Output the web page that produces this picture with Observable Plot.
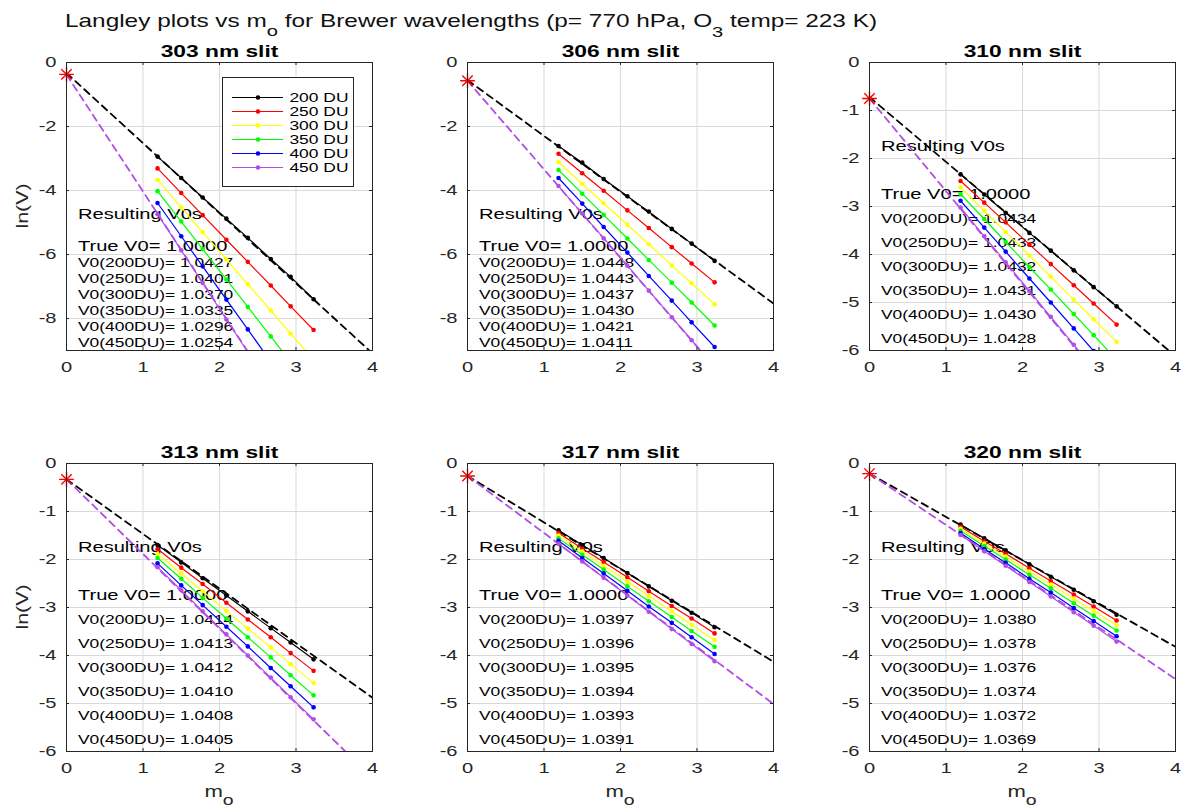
<!DOCTYPE html>
<html><head><meta charset="utf-8">
<script src="https://cdn.jsdelivr.net/npm/d3@7"></script>
<script src="https://cdn.jsdelivr.net/npm/@observablehq/plot@0.6"></script>
<style>
body{margin:0;background:#fff;}
#fig{position:relative;width:1184px;height:807px;overflow:hidden;background:#fff;}
#fig svg{position:absolute;}
</style></head><body><div id="fig"></div>
<script>
// ---------- data ----------
const slitTitles = ["303 nm slit","306 nm slit","310 nm slit","313 nm slit","317 nm slit","320 nm slit"];
const ozone = ["200 DU","250 DU","300 DU","350 DU","400 DU","450 DU"];
const ozoneDU = [200,250,300,350,400,450];
const colors = ["#000000","#ff0000","#ffff00","#00ff00","#0000ff","#b34de6"];
const airmass = [1.19,1.50,1.78,2.09,2.37,2.67,2.93,3.23];
const xTicks = [0,1,2,3,4];
const yTicksDeep = [-8,-6,-4,-2,0];
const yTicksShallow = [-6,-5,-4,-3,-2,-1,0];
const yFloor = [-9,-9,-6,-6,-6,-6];
const trueV0 = 1.0;
const starY = [-0.37,-0.57,-0.75,-0.33,-0.26,-0.21];
const fitX = [0,4];
const fit200 = [[-0.33,-9.09],[-0.55,-7.53],[-0.72,-6.12],[-0.33,-4.88],[-0.26,-4.13],[-0.21,-3.82]];
const fit450 = [[-0.38,-14.98],[-0.57,-11.65],[-0.75,-8.47],[-0.33,-6.55],[-0.26,-5.01],[-0.21,-4.49]];

const lnV303 = [
 [-2.94,-3.61,-4.22,-4.88,-5.48,-6.14,-6.70,-7.40],
 [-3.31,-4.08,-4.77,-5.54,-6.23,-6.97,-7.62,-8.36],
 [-3.67,-4.53,-5.30,-6.15,-6.93,-7.75,-8.47,-9.30],
 [-4.02,-4.97,-5.83,-6.78,-7.64,-8.56,-9.36,-10.28],
 [-4.39,-5.43,-6.37,-7.41,-8.34,-9.35,-10.22,-11.22],
 [-4.74,-5.87,-6.89,-8.03,-9.05,-10.14,-11.09,-12.19]];
const lnV306 = [
 [-2.61,-3.13,-3.64,-4.18,-4.66,-5.20,-5.66,-6.20],
 [-2.85,-3.46,-4.01,-4.62,-5.17,-5.77,-6.28,-6.87],
 [-3.11,-3.79,-4.40,-5.07,-5.68,-6.34,-6.90,-7.56],
 [-3.36,-4.10,-4.76,-5.50,-6.17,-6.88,-7.50,-8.22],
 [-3.61,-4.41,-5.14,-5.94,-6.67,-7.44,-8.12,-8.89],
 [-3.86,-4.72,-5.49,-6.35,-7.13,-7.96,-8.68,-9.51]];
const lnV310 = [
 [-2.33,-2.75,-3.13,-3.55,-3.92,-4.33,-4.68,-5.08],
 [-2.47,-2.92,-3.33,-3.79,-4.20,-4.64,-5.02,-5.46],
 [-2.60,-3.09,-3.53,-4.02,-4.46,-4.94,-5.35,-5.82],
 [-2.74,-3.26,-3.74,-4.26,-4.73,-5.24,-5.68,-6.19],
 [-2.88,-3.44,-3.94,-4.50,-5.00,-5.54,-6.01,-6.55],
 [-3.02,-3.62,-4.16,-4.76,-5.30,-5.88,-6.38,-6.96]];
const lnV313 = [
 [-1.70,-2.06,-2.39,-2.75,-3.08,-3.43,-3.73,-4.08],
 [-1.78,-2.17,-2.51,-2.90,-3.25,-3.62,-3.95,-4.32],
 [-1.88,-2.29,-2.66,-3.07,-3.44,-3.83,-4.18,-4.57],
 [-1.97,-2.40,-2.80,-3.23,-3.62,-4.04,-4.41,-4.83],
 [-2.08,-2.54,-2.95,-3.40,-3.81,-4.26,-4.64,-5.08],
 [-2.16,-2.64,-3.08,-3.56,-4.00,-4.46,-4.87,-5.33]];
const lnV317 = [
 [-1.39,-1.70,-1.97,-2.28,-2.56,-2.86,-3.11,-3.41],
 [-1.45,-1.77,-2.05,-2.37,-2.66,-2.97,-3.23,-3.54],
 [-1.50,-1.83,-2.13,-2.46,-2.76,-3.08,-3.36,-3.68],
 [-1.56,-1.90,-2.21,-2.56,-2.87,-3.20,-3.49,-3.82],
 [-1.61,-1.97,-2.29,-2.65,-2.98,-3.32,-3.62,-3.97],
 [-1.67,-2.04,-2.38,-2.75,-3.09,-3.45,-3.76,-4.12]];
const lnV320 = [
 [-1.27,-1.56,-1.81,-2.10,-2.36,-2.63,-2.87,-3.15],
 [-1.32,-1.62,-1.88,-2.18,-2.45,-2.73,-2.98,-3.27],
 [-1.36,-1.67,-1.94,-2.25,-2.52,-2.82,-3.07,-3.37],
 [-1.40,-1.72,-2.00,-2.32,-2.60,-2.91,-3.17,-3.48],
 [-1.45,-1.78,-2.07,-2.40,-2.69,-3.01,-3.28,-3.60],
 [-1.49,-1.83,-2.13,-2.47,-2.77,-3.10,-3.38,-3.71]];

const v0Fit303 = [1.0427,1.0401,1.0370,1.0335,1.0296,1.0254];
const v0Fit306 = [1.0448,1.0443,1.0437,1.0430,1.0421,1.0411];
const v0Fit310 = [1.0434,1.0433,1.0432,1.0431,1.0430,1.0428];
const v0Fit313 = [1.0414,1.0413,1.0412,1.0410,1.0408,1.0405];
const v0Fit317 = [1.0397,1.0396,1.0395,1.0394,1.0393,1.0391];
const v0Fit320 = [1.0380,1.0378,1.0376,1.0374,1.0372,1.0369];

const titleParts = ["Langley plots vs m","o"," for Brewer wavelengths (p= 770 hPa, O","3"," temp= 223 K)"];

// ---------- layout / style ----------
const lnVAll = [lnV303,lnV306,lnV310,lnV313,lnV317,lnV320];
const v0All = [v0Fit303,v0Fit306,v0Fit310,v0Fit313,v0Fit317,v0Fit320];
const FONT = "'Liberation Sans', Arial, Helvetica, sans-serif";
const S = 1.34; // horizontal widening of the glyphs in the reference
const W = 306, H = 288, mL = 60, mR = 12, mT = 32, mB = 50;
const colLeft = [66, 467, 869], rowTop = [62, 463];
const fig = document.getElementById("fig");

function stretchText(svg) {
  svg.querySelectorAll("text").forEach(t => {
    const tr = t.getAttribute("transform");
    if (tr) t.setAttribute("transform", tr + ` scale(${S},1)`);
    else {
      const x = parseFloat(t.getAttribute("x")) || 0;
      t.setAttribute("transform", `translate(${x},0) scale(${S},1) translate(${-x},0)`);
    }
  });
}

// overlay with figure title and axis labels
const ov = d3.create("svg").attr("width", 1184).attr("height", 807)
  .style("left", "0px").style("top", "0px")
  .attr("font-family", FONT);
{
  const t = ov.append("text").attr("transform", `translate(65,27.3) scale(${S},1)`)
    .attr("font-size", 18.2).attr("fill", "#111").style("white-space", "pre");
  t.append("tspan").text(titleParts[0]);
  t.append("tspan").attr("dy", 9).attr("font-size", 15).text(titleParts[1]);
  t.append("tspan").attr("dy", -9).text(titleParts[2]);
  t.append("tspan").attr("dy", 9.5).attr("font-size", 15).text(titleParts[3]);
  t.append("tspan").attr("dy", -9.5).text(titleParts[4]);
  rowTop.forEach(rt => {
    ov.append("text").attr("transform", `translate(28,${rt + H / 2}) rotate(-90) scale(${S},1)`)
      .attr("text-anchor", "middle").attr("font-size", 16).attr("fill", "#262626").text("ln(V)");
  });
  colLeft.forEach(cl => {
    const xl = ov.append("text").attr("transform", `translate(${cl + W / 2},797) scale(${S},1)`)
      .attr("text-anchor", "middle").attr("font-size", 16.5).attr("fill", "#262626");
    xl.append("tspan").text("m");
    xl.append("tspan").attr("dy", 8).attr("font-size", 14.5).text("o");
  });
}
fig.appendChild(ov.node());

function panel(i) {
  const lnV = lnVAll[i];
  const rows = lnV.flatMap((ys, k) => ys.map((y, j) => ({x: airmass[j], y, s: ozone[k]})));
  const fits = [
    ...fitX.map((x, j) => ({x, y: fit200[i][j], s: ozone[0]})),
    ...fitX.map((x, j) => ({x, y: fit450[i][j], s: ozone[5]}))
  ];
  const yTicks = yFloor[i] === -9 ? yTicksDeep : yTicksShallow;
  const top = yFloor[i] === -9 ? -4.75 : -1.75;
  const bigNotes = [
    {x: 0.15, y: top, t: "Resulting V0s"},
    {x: 0.15, y: top - 1, t: `True V0= ${trueV0.toFixed(4)}`}
  ];
  const smallNotes = v0All[i].map((v, k) => ({x: 0.15, y: top - 1.5 - 0.5 * k, t: `V0(${ozoneDU[k]}DU)= ${v.toFixed(4)}`}));
  const axisCol = "#262626";
  const svg = Plot.plot({
    width: W + mL + mR, height: H + mT + mB,
    marginLeft: mL, marginRight: mR, marginTop: mT, marginBottom: mB,
    x: {domain: [0, 4]},
    y: {domain: [yFloor[i], 0]},
    color: {domain: ozone, range: colors},
    style: {fontFamily: FONT, background: "transparent", overflow: "visible", color: axisCol},
    marks: [
      Plot.gridX(xTicks, {stroke: "#d9d9d9", strokeOpacity: 1, strokeWidth: 1}),
      Plot.gridY(yTicks, {stroke: "#d9d9d9", strokeOpacity: 1, strokeWidth: 1}),
      Plot.text(bigNotes, {x: "x", y: "y", text: "t", textAnchor: "start", fontSize: 15, fill: "#000"}),
      Plot.text(smallNotes, {x: "x", y: "y", text: "t", textAnchor: "start", fontSize: 13, fill: "#000"}),
      Plot.line(fits, {x: "x", y: "y", z: "s", stroke: "s", strokeWidth: 1.8, strokeDasharray: "7,5", clip: true}),
      Plot.line(rows, {x: "x", y: "y", z: "s", stroke: "s", strokeWidth: 1.2, clip: true}),
      Plot.dot(rows, {x: "x", y: "y", fill: "s", r: 2.3, clip: true}),
      Plot.dot([{x: 0, y: starY[i]}], {x: "x", y: "y", symbol: "plus", r: 4.8, stroke: "#ff0000", strokeWidth: 1.4}),
      Plot.dot([{x: 0, y: starY[i]}], {x: "x", y: "y", symbol: "times", r: 4.8, stroke: "#ff0000", strokeWidth: 1.4}),
      Plot.tickX(xTicks, {x: d => d, insetTop: H - 3, stroke: axisCol}),
      Plot.tickX(xTicks, {x: d => d, insetBottom: H - 3, stroke: axisCol}),
      Plot.tickY(yTicks, {y: d => d, insetRight: W - 3, stroke: axisCol}),
      Plot.tickY(yTicks, {y: d => d, insetLeft: W - 3, stroke: axisCol}),
      Plot.frame({stroke: axisCol, strokeWidth: 1}),
      Plot.axisX(xTicks, {tickSize: 0, tickPadding: 11, fontSize: 15, tickFormat: d => String(d), label: null, fill: axisCol}),
      Plot.axisY(yTicks, {tickSize: 0, tickPadding: 10, fontSize: 15, tickFormat: d => String(d), label: null, fill: axisCol}),
      Plot.text([slitTitles[i]], {frameAnchor: "top", dy: -5.5, lineAnchor: "bottom", fontSize: 17, fontWeight: "bold", fill: "#000"})
    ]
  });
  stretchText(svg);
  svg.style.left = (colLeft[i % 3] - mL) + "px";
  svg.style.top = (rowTop[Math.floor(i / 3)] - mT) + "px";
  fig.appendChild(svg);
}
for (let i = 0; i < 6; i++) panel(i);

// legend (first panel)
const legend = Plot.plot({
  width: 131, height: 109, margin: 0,
  x: {domain: [0, 1], axis: null},
  y: {type: "point", domain: ozone, range: [12, 98], axis: null},
  color: {domain: ozone, range: colors},
  style: {fontFamily: FONT, background: "transparent", overflow: "visible"},
  marks: [
    Plot.frame({fill: "white", stroke: "#262626", strokeWidth: 1}),
    Plot.ruleY(ozone, {y: d => d, x1: 0.076, x2: 0.466, stroke: d => d, strokeWidth: 1.2}),
    Plot.dot(ozone, {y: d => d, x: 0.271, fill: d => d, r: 2.3}),
    Plot.text(ozone, {y: d => d, x: 0.511, text: d => d, textAnchor: "start", fontSize: 13, fill: "#000"})
  ]
});
stretchText(legend);
legend.style.left = "222px";
legend.style.top = "77px";
fig.appendChild(legend);
</script></body></html>
